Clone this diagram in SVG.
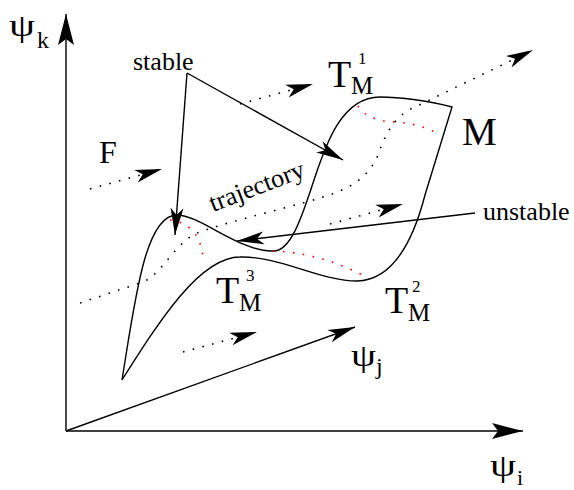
<svg xmlns="http://www.w3.org/2000/svg" width="574" height="490" viewBox="0 0 574 490">
<style>
.ln{fill:none;stroke:#000;stroke-width:1.4}
.dot{fill:none;stroke:#000;stroke-width:1.6;stroke-dasharray:1.6 8.4}
.red{fill:none;stroke:#f00;stroke-width:1.6;stroke-dasharray:1.6 8.4}
text{font-family:'Liberation Serif',serif;fill:#000}
</style>
<defs>
<marker id="ah" viewBox="-30 -10 32 20" markerWidth="32" markerHeight="20" refX="0" refY="0" orient="auto" markerUnits="userSpaceOnUse">
<path d="M0,0 L-27,-6.5 L-20,0 L-27,6.5 Z" fill="#000"/>
</marker>
<marker id="ax" viewBox="-34 -10 36 20" markerWidth="36" markerHeight="20" refX="0" refY="0" orient="auto" markerUnits="userSpaceOnUse">
<path d="M0,0 L-31,-8 L-25,0 L-31,8 Z" fill="#000"/>
</marker>
</defs>
<rect width="574" height="490" fill="#fff"/>

<g id="axes">
<path class="ln" d="M66,431 L66,14" marker-end="url(#ax)"/>
<path class="ln" d="M66,431 L523,431" marker-end="url(#ax)"/>
<path class="ln" d="M66,431 L355,327" marker-end="url(#ah)"/>
<text x="9" y="36" font-size="32" textLength="26" lengthAdjust="spacingAndGlyphs" font-family="'Liberation Serif'">ψ</text><text x="37" y="48" font-size="24" font-family="'Liberation Serif'">k</text>
<text x="490" y="476" font-size="32" textLength="26" lengthAdjust="spacingAndGlyphs" font-family="'Liberation Serif'">ψ</text><text x="517" y="485" font-size="22" font-family="'Liberation Serif'">i</text>
<text x="351" y="366" font-size="32" textLength="25" lengthAdjust="spacingAndGlyphs" font-family="'Liberation Serif'">ψ</text><text x="376" y="374" font-size="24" font-family="'Liberation Serif'">j</text>
</g>

<g id="manifold">
<path class="ln" d="M122,380 C135,300 145,215 177,215 C200,215 240,252 273,251 C292,252 304,210 315,177 C326,144 342,97 380,97 C400,97 430,101 452,107 L425,195 C418,222 400,280 357,281 C320,281 280,256 240,257 C200,257 160,320 122,380 Z"/>
<path class="red" d="M170,220 C185,222 200,230 203,257"/>
<path class="red" d="M273,251 C300,251 340,262 368,278"/>
<path class="red" d="M358,106 C365,116 375,121 395,122 C410,123 425,126 440,135"/>
<text x="462" y="145" font-size="39" font-family="'Liberation Serif'">M</text>
</g>

<g id="trajectories">
<path class="dot" d="M80,303 L140,283 C160,277 170,250 193,235 C210,226 280,210 320,198 C350,189 370,178 380,150 C385,135 395,115 415,107 L533,50" marker-end="url(#ah)"/>
<path class="dot" d="M90,189 L162,169" marker-end="url(#ah)"/>
<path class="dot" d="M240,104 L313,84" marker-end="url(#ah)"/>
<path class="dot" d="M330,224 L403,204" marker-end="url(#ah)"/>
<path class="dot" d="M183,352 L257,332" marker-end="url(#ah)"/>
</g>

<g id="connectors">
<path class="ln" d="M187,73 L175,235" marker-end="url(#ah)"/>
<path class="ln" d="M187,73 L343,160" marker-end="url(#ah)"/>
<path class="ln" d="M475,213 L237,241" marker-end="url(#ah)"/>
</g>

<g id="labels">
<text x="133" y="70" font-size="26" font-family="'Liberation Serif'">stable</text>
<text x="483" y="220" font-size="26" font-family="'Liberation Serif'">unstable</text>
<text transform="translate(213,212) rotate(-21)" font-size="26" textLength="100" lengthAdjust="spacingAndGlyphs" font-family="'Liberation Serif'">trajectory</text>
<text x="99" y="163" font-size="32" font-family="'Liberation Serif'">F</text>
<g id="TM1"><text x="328" y="87" font-size="38" font-family="'Liberation Serif'">T</text><text x="351" y="94" font-size="25" font-family="'Liberation Serif'">M</text><text x="358" y="64" font-size="17" font-family="'Liberation Serif'">1</text></g>
<g id="TM3"><text x="216" y="303" font-size="38" font-family="'Liberation Serif'">T</text><text x="239" y="311" font-size="25" font-family="'Liberation Serif'">M</text><text x="246" y="281" font-size="17" font-family="'Liberation Serif'">3</text></g>
<g id="TM2"><text x="385" y="313" font-size="38" font-family="'Liberation Serif'">T</text><text x="408" y="321" font-size="25" font-family="'Liberation Serif'">M</text><text x="412" y="292" font-size="17" font-family="'Liberation Serif'">2</text></g>
</g>
</svg>
